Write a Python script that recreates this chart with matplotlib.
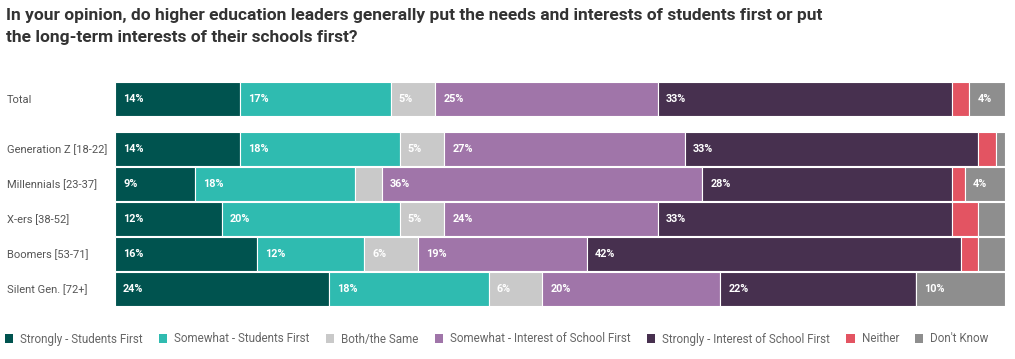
import matplotlib.pyplot as plt
from matplotlib.patches import Patch
import numpy as np

plt.rcParams['font.family'] = 'Roboto'
plt.rcParams['font.size'] = 8

# Data (percent of respondents)
groups = ['Total', 'Generation Z [18-22]', 'Millennials [23-37]',
          'X-ers [38-52]', 'Boomers [53-71]', 'Silent Gen. [72+]']
answers = ['Strongly - Students First', 'Somewhat - Students First',
           'Both/the Same', 'Somewhat - Interest of School First',
           'Strongly - Interest of School First', 'Neither', "Don't Know"]

strongly_students = [14, 14, 9, 12, 16, 24]
somewhat_students = [17, 18, 18, 20, 12, 18]
both_same = [5, 5, 3, 5, 6, 6]
somewhat_school = [25, 27, 36, 24, 19, 20]
strongly_school = [33, 33, 28, 33, 42, 22]
neither = [2, 2, 1.5, 3, 2, 0]
dont_know = [4, 1, 4.5, 3, 3, 10]

colors = ['#00534F', '#2FBBB0', '#C9C9C9', '#A075A9',
          '#47304F', '#E35462', '#8E8E8E']

series = [strongly_students, somewhat_students, both_same, somewhat_school,
          strongly_school, neither, dont_know]

# Total sits apart from the generation rows
ypos = np.array([0, 1.43, 2.43, 3.43, 4.43, 5.43])
bar_h = 0.97

fig = plt.figure(figsize=(10.15, 3.59), dpi=100)
ax = fig.add_axes([115 / 1015, 1 - 306 / 359, 890 / 1015, 224 / 359])

left = np.zeros(len(groups))
for vals, col, name in zip(series, colors, answers):
    vals = np.array(vals, dtype=float)
    ax.barh(ypos, vals, left=left, height=bar_h, color=col,
            edgecolor='white', linewidth=0.8, label=name)
    for y, l, v in zip(ypos, left, vals):
        if v >= 4:
            ax.text(l + 0.9, y, f'{v:.0f}%', color='white', va='center',
                    ha='left', fontsize=7.8, fontweight='semibold')
    left += vals

ax.set_xlim(0, 100)
ax.set_ylim(ypos[-1] + bar_h / 2, ypos[0] - bar_h / 2)
ax.set_yticks(ypos)
ax.set_yticklabels(groups, ha='left', color='#555555', fontsize=8)
ax.tick_params(axis='y', length=0, pad=78)
ax.set_xticks([])
for s in ax.spines.values():
    s.set_visible(False)

fig.text(6 / 1015, 1 - 8 / 359,
         'In your opinion, do higher education leaders generally put the needs and interests of students first or put\n'
         'the long-term interests of their schools first?',
         ha='left', va='top', fontsize=12.5, fontweight='bold',
         color='#333333', linespacing=1.55)

handles = [Patch(facecolor=c, edgecolor='none', label=a)
           for c, a in zip(colors, answers)]
fig.legend(handles=handles, loc='center left', bbox_to_anchor=(5 / 1015, 1 - 339 / 359),
           ncol=7, frameon=False, fontsize=8.4, handlelength=0.7, handleheight=0.7,
           handletextpad=0.6, columnspacing=1.4, labelcolor='#666666',
           borderaxespad=0, borderpad=0)

plt.savefig('out.png', dpi=100)
